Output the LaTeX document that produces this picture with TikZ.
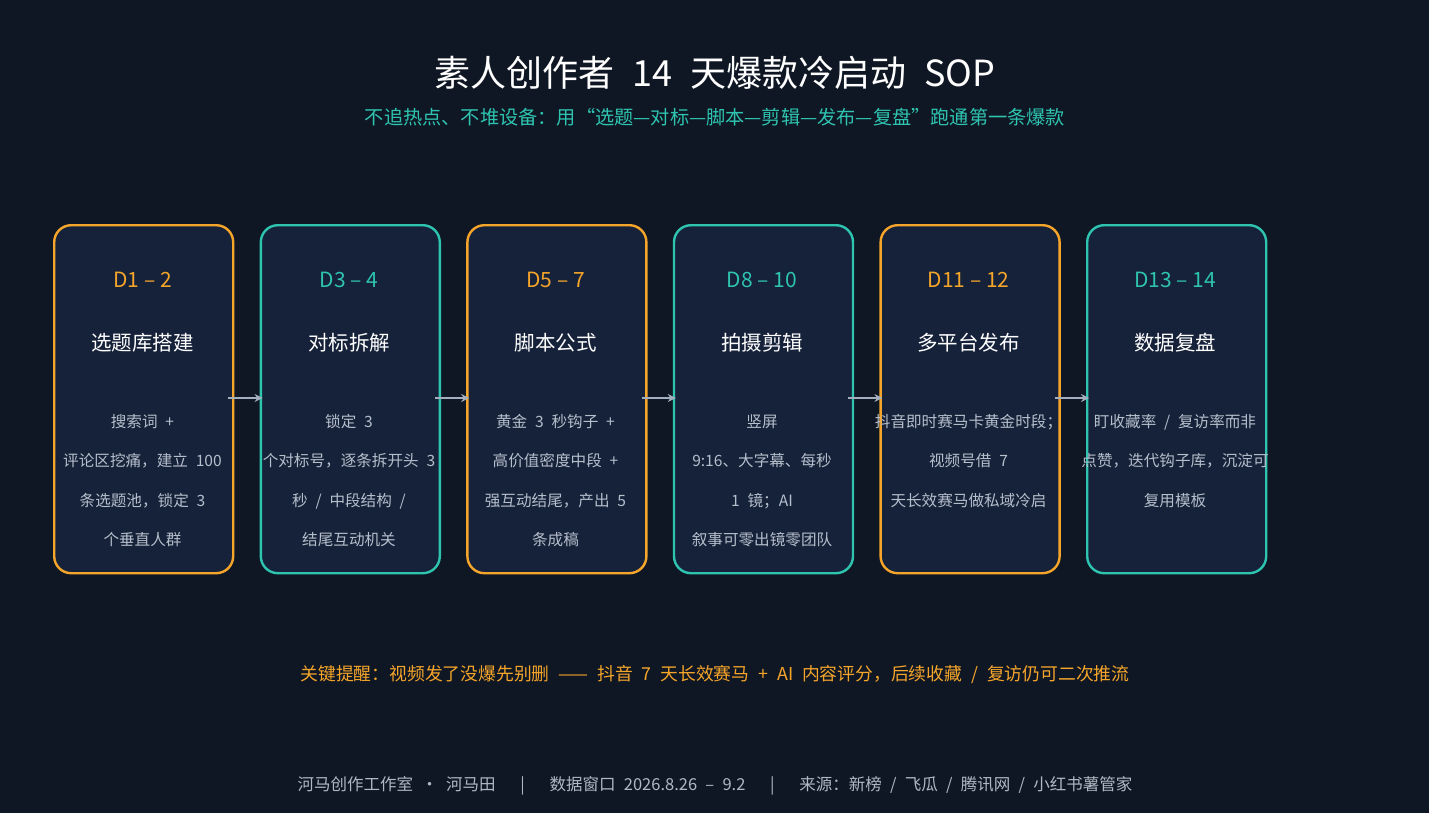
\documentclass[tikz,border=0pt]{standalone}
\usepackage{fontspec}
\setmainfont{Noto Sans CJK SC}
\usetikzlibrary{arrows.meta}
\definecolor{bg}{HTML}{0F1724}
\definecolor{boxfill}{HTML}{16223A}
\definecolor{orng}{HTML}{F5A52A}
\definecolor{teal}{HTML}{2EC4B0}
\definecolor{bodytxt}{HTML}{B5BECB}
\definecolor{arrowc}{HTML}{A3AEBF}
\definecolor{foot}{HTML}{B0B8C4}
\newcommand{\fsz}[1]{\fontsize{#1}{#1}\selectfont\spaceskip=0.5em\relax}
\tikzset{
  stepbox/.style={draw=#1, line width=2.4pt, rounded corners=17pt, fill=boxfill,
    minimum width=179pt, minimum height=348pt, inner sep=0pt, anchor=north west},
  daylabel/.style={text=#1, font=\fontsize{21}{21}\selectfont, anchor=center},
  heading/.style={text=white, font=\fsz{20.5}, anchor=center},
  bodyline/.style={text=bodytxt, font=\fsz{15.6}, anchor=center},
  flow/.style={draw=arrowc, line width=2.2pt, -{Stealth[length=8pt,width=8pt]}, shorten <=-6pt, shorten >=-3pt}
}
\begin{document}
\begin{tikzpicture}[x=1pt,y=-1pt]
\fill[bg] (0,0) rectangle (1429,813);
\useasboundingbox (0,0) rectangle (1429,813);

\node[text=white, font=\fsz{36}] (title) at (715,73) {素人创作者 14 天爆款冷启动 SOP};
\node[text=teal, font=\fsz{19.2}] (sub) at (715,117) {不追热点、不堆设备：用“选题—对标—脚本—剪辑—发布—复盘”跑通第一条爆款};

% boxes
\node[stepbox=orng] (b1) at (53,224) {};
\node[stepbox=teal] (b2) at (259.6,224) {};
\node[stepbox=orng] (b3) at (466.2,224) {};
\node[stepbox=teal] (b4) at (672.8,224) {};
\node[stepbox=orng] (b5) at (879.4,224) {};
\node[stepbox=teal] (b6) at (1086,224) {};

% arrows
\draw[flow] (b1.east |- 0,398) -- (b2.west |- 0,398);
\draw[flow] (b2.east |- 0,398) -- (b3.west |- 0,398);
\draw[flow] (b3.east |- 0,398) -- (b4.west |- 0,398);
\draw[flow] (b4.east |- 0,398) -- (b5.west |- 0,398);
\draw[flow] (b5.east |- 0,398) -- (b6.west |- 0,398);

% box 1
\node[daylabel=orng] (d1) at (142.5,280) {D1 – 2};
\node[heading] (h1) at (142.5,343) {选题库搭建};
\node[bodyline] (t1a) at (142.5,422) {搜索词 +};
\node[bodyline] (t1b) at (142.5,461) {评论区挖痛，建立 100};
\node[bodyline] (t1c) at (142.5,501) {条选题池，锁定 3};
\node[bodyline] (t1d) at (142.5,540) {个垂直人群};

% box 2
\node[daylabel=teal] (d2) at (349,280) {D3 – 4};
\node[heading] (h2) at (349,343) {对标拆解};
\node[bodyline] (t2a) at (349,422) {锁定 3};
\node[bodyline] (t2b) at (349,461) {个对标号，逐条拆开头 3};
\node[bodyline] (t2c) at (349,501) {秒 / 中段结构 /};
\node[bodyline] (t2d) at (349,540) {结尾互动机关};

% box 3
\node[daylabel=orng] (d3) at (555.5,280) {D5 – 7};
\node[heading] (h3) at (555.5,343) {脚本公式};
\node[bodyline] (t3a) at (555.5,422) {黄金 3 秒钩子 +};
\node[bodyline] (t3b) at (555.5,461) {高价值密度中段 +};
\node[bodyline] (t3c) at (555.5,501) {强互动结尾，产出 5};
\node[bodyline] (t3d) at (555.5,540) {条成稿};

% box 4
\node[daylabel=teal] (d4) at (762,280) {D8 – 10};
\node[heading] (h4) at (762,343) {拍摄剪辑};
\node[bodyline] (t4a) at (762,422) {竖屏};
\node[bodyline] (t4b) at (762,461) {9:16、大字幕、每秒};
\node[bodyline] (t4c) at (762,501) {1 镜；AI};
\node[bodyline] (t4d) at (762,540) {叙事可零出镜零团队};

% box 5
\node[daylabel=orng] (d5) at (968.5,280) {D11 – 12};
\node[heading] (h5) at (968.5,343) {多平台发布};
\node[bodyline] (t5a) at (968.5,422) {抖音即时赛马卡黄金时段；};
\node[bodyline] (t5b) at (968.5,461) {视频号借 7};
\node[bodyline] (t5c) at (968.5,501) {天长效赛马做私域冷启};

% box 6
\node[daylabel=teal] (d6) at (1175,280) {D13 – 14};
\node[heading] (h6) at (1175,343) {数据复盘};
\node[bodyline] (t6a) at (1175,422) {盯收藏率 / 复访率而非};
\node[bodyline] (t6b) at (1175,461) {点赞，迭代钩子库，沉淀可};
\node[bodyline] (t6c) at (1175,501) {复用模板};

\node[text=orng, font=\fsz{17.8}] (tip) at (715,675) {关键提醒：视频发了没爆先别删 —— 抖音 7 天长效赛马 + AI 内容评分，后续收藏 / 复访仍可二次推流};
\node[text=foot, font=\fsz{16.5}] (footer) at (715,786) {河马创作工作室 · 河马田\ \ \ |\ \ \ 数据窗口 2026.8.26 – 9.2\ \ \ |\ \ \ 来源：新榜 / 飞瓜 / 腾讯网 / 小红书薯管家};
\end{tikzpicture}
\end{document}
